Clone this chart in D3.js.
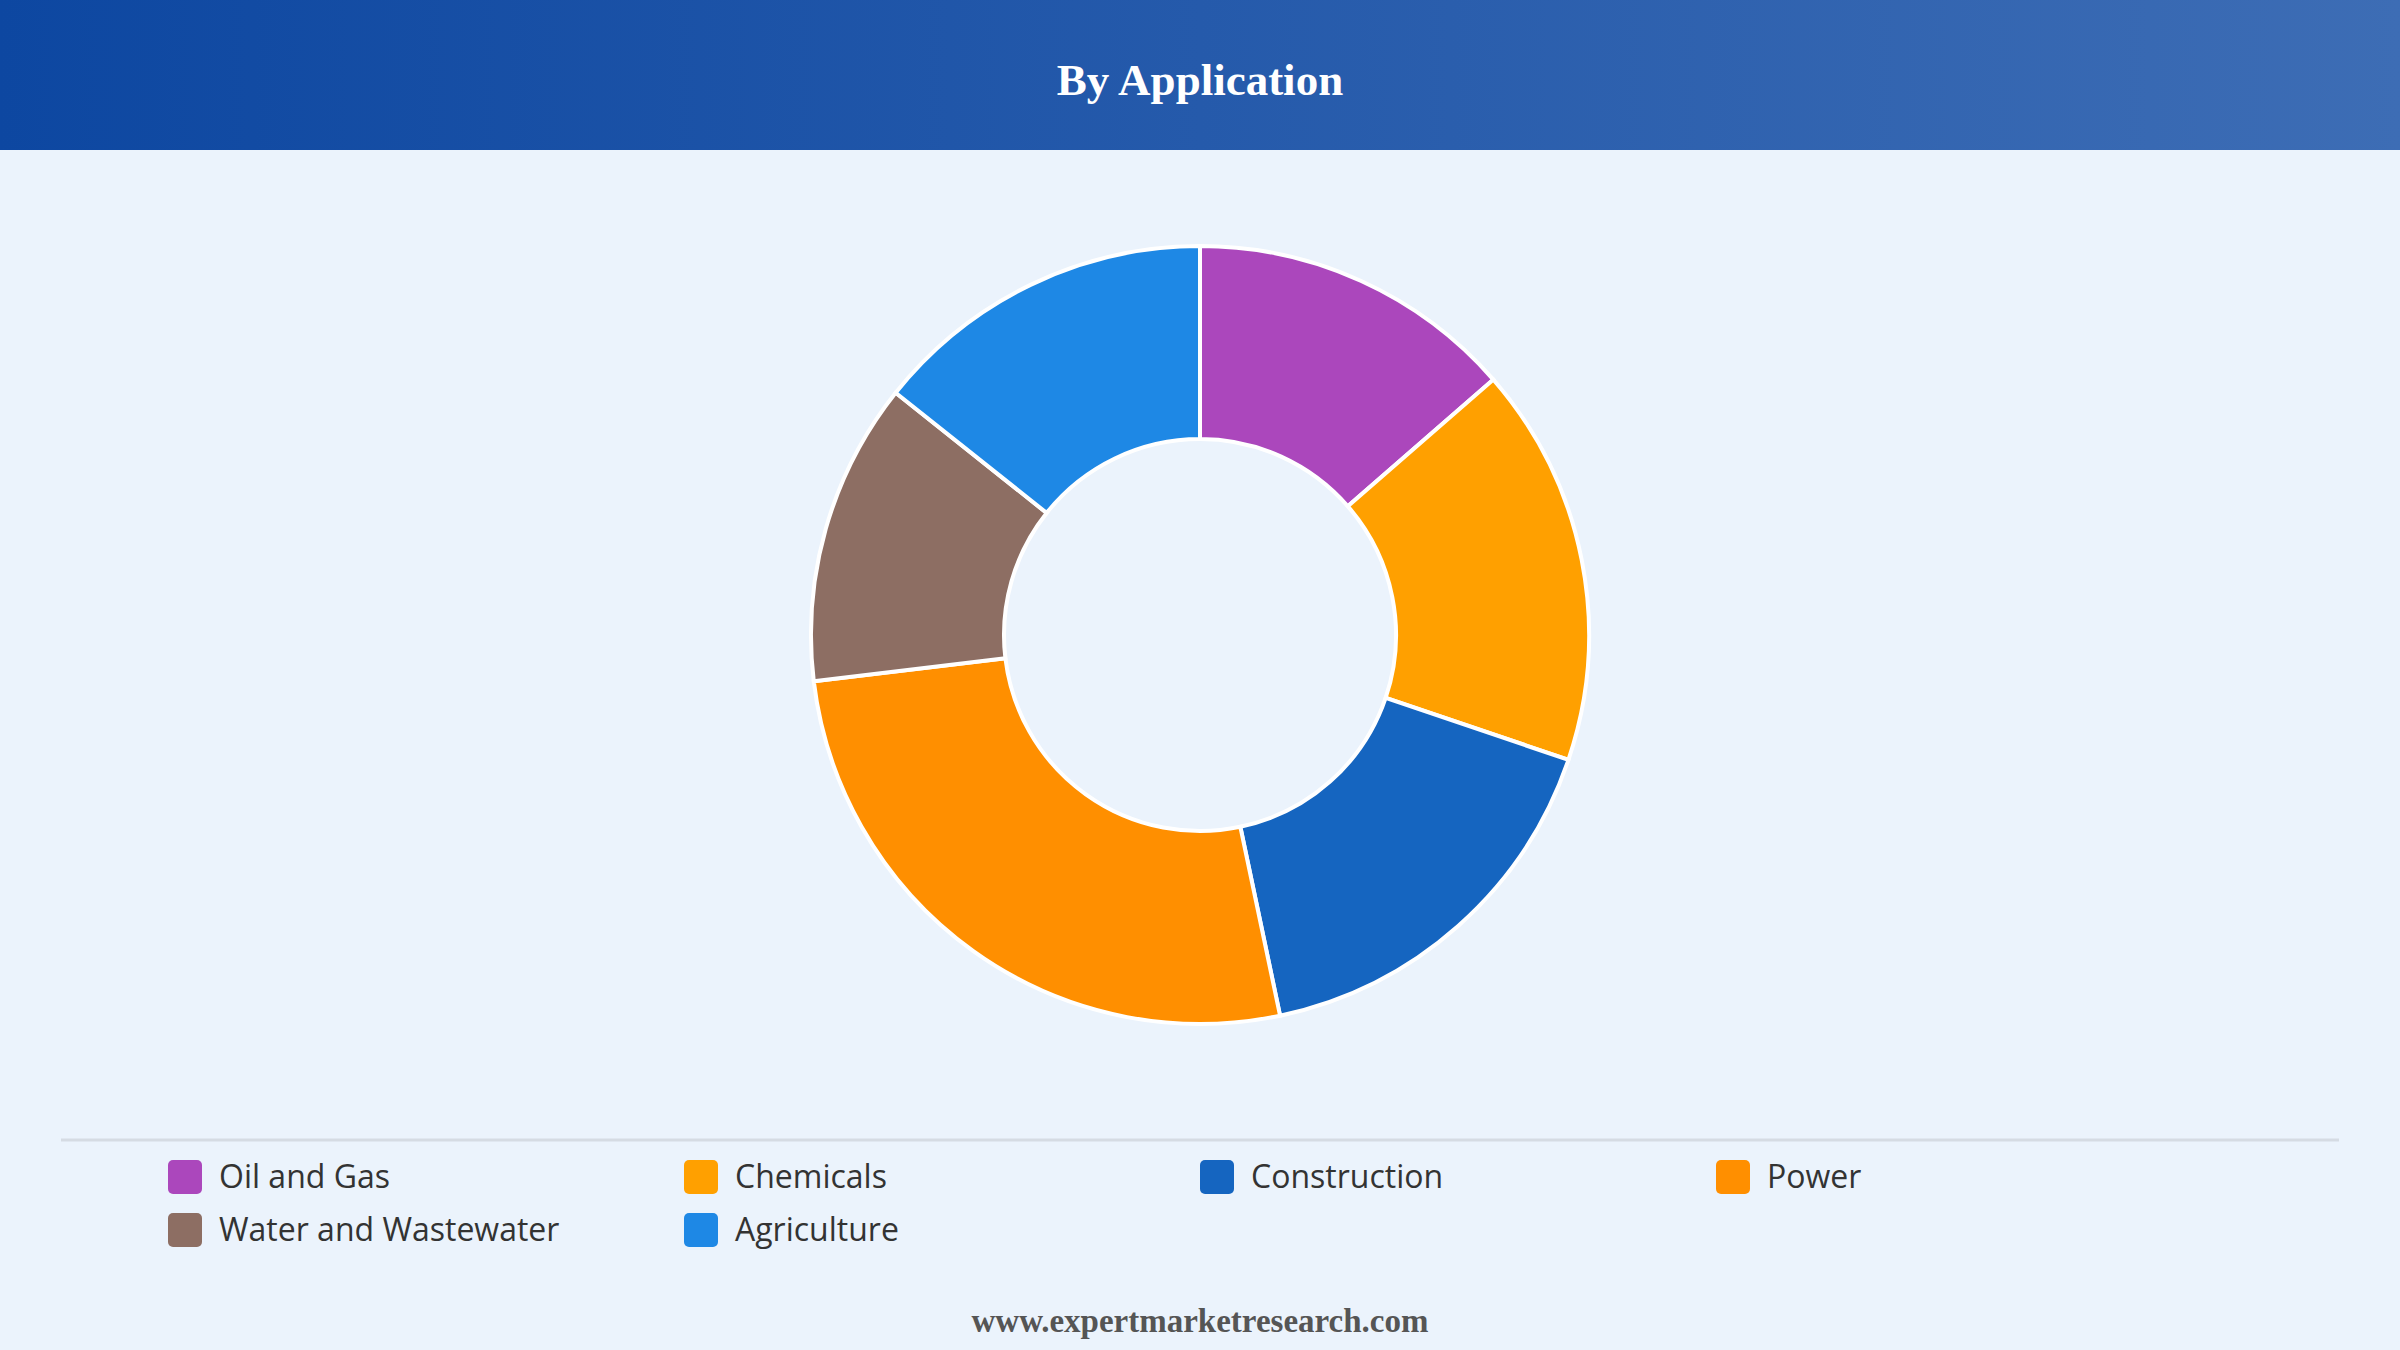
<!DOCTYPE html>
<html><head><meta charset="utf-8">
<script src="https://cdn.jsdelivr.net/npm/d3@7"></script>
<style>body{margin:0;background:#EBF3FC;}svg{display:block;}</style>
</head><body>
<script>
const categories = ["Oil and Gas","Chemicals","Construction","Power","Water and Wastewater","Agriculture"];
const values = [13.6,16.6,16.5,26.4,12.6,14.3];
const colors = ["#AB47BC","#FFA000","#1565C0","#FF8F00","#8D6E63","#1E88E5"];
const W=2400,H=1350;
const svg=d3.select("body").append("svg").attr("width",W).attr("height",H);
const defs=svg.append("defs");
const g=defs.append("linearGradient").attr("id","hg");
g.append("stop").attr("offset","0").attr("stop-color","#0D47A1");
g.append("stop").attr("offset","1").attr("stop-color","#3D6DB5");
svg.append("rect").attr("width",W).attr("height",H).attr("fill","#EBF3FC");
svg.append("rect").attr("width",W).attr("height",150).attr("fill","url(#hg)");
svg.append("text").attr("x",W/2).attr("y",95).attr("text-anchor","middle").attr("fill","#fff")
 .attr("font-family","Liberation Serif, serif").attr("font-weight","bold").attr("font-size",45).text("By Application");
const pie=d3.pie().sort(null).value(d=>d);
const arc=d3.arc().innerRadius(196).outerRadius(389);
svg.append("g").attr("transform","translate(1200,635)").selectAll("path").data(pie(values)).join("path")
 .attr("d",arc).attr("fill",(d,i)=>colors[i]).attr("stroke","#fff").attr("stroke-width",4);
svg.append("line").attr("x1",61).attr("x2",2339).attr("y1",1140).attr("y2",1140).attr("stroke","#d5dbe3").attr("stroke-width",3);
const lg=svg.append("g");
categories.forEach((c,i)=>{
 const x=168+(i%4)*516, y=1177+Math.floor(i/4)*53;
 lg.append("rect").attr("x",x).attr("y",y-17).attr("width",34).attr("height",34).attr("rx",5).attr("fill",colors[i]);
 lg.append("text").attr("x",x+51).attr("y",y+11).attr("font-family","Open Sans, sans-serif").attr("font-size",32).attr("fill","#333").text(c);
});
svg.append("text").attr("x",W/2).attr("y",1332).attr("text-anchor","middle").attr("fill","#555")
 .attr("font-family","Liberation Serif, serif").attr("font-weight","bold").attr("font-size",33).text("www.expertmarketresearch.com");
</script>
</body></html>
